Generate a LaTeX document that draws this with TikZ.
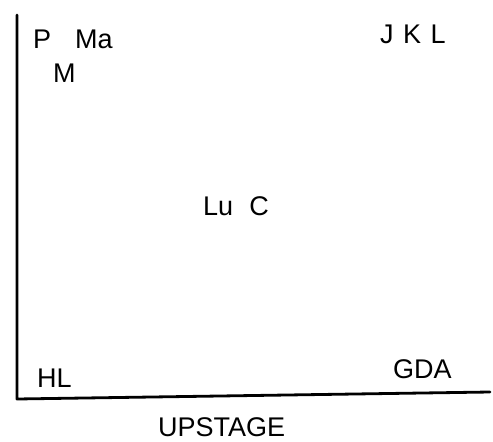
\documentclass[tikz,border=0pt]{standalone}
\usepackage{fontspec}
\setmainfont{Liberation Sans}
\begin{document}
\begin{tikzpicture}[x=1pt,y=-1pt,
  lbl/.style={anchor=base west,inner sep=0pt,font=\fontsize{27}{30}\selectfont},
  edge/.style={line width=2.8pt,line cap=round,line join=round}]
\useasboundingbox (0,0) rectangle (493,442);
\coordinate (top) at (17,15);
\coordinate (corner) at (17,399);
\coordinate (right) at (490,392);
\draw[edge] (top) -- (corner) -- (right);
\node[lbl] (p) at (33,48) {P};
\node[lbl] (ma) at (75,48) {Ma};
\node[lbl] (m) at (53,82) {M};
\node[lbl] (jkl) at (380,43) {J\hspace{0.35em}K\hspace{0.35em}L};
\node[lbl] (luc) at (203,215) {Lu\hspace{0.6em}C};
\node[lbl] (hl) at (37,387) {HL};
\node[lbl] (gda) at (393,378) {GDA};
\node[lbl] (up) at (158,436) {UPSTAGE};
\end{tikzpicture}
\end{document}
